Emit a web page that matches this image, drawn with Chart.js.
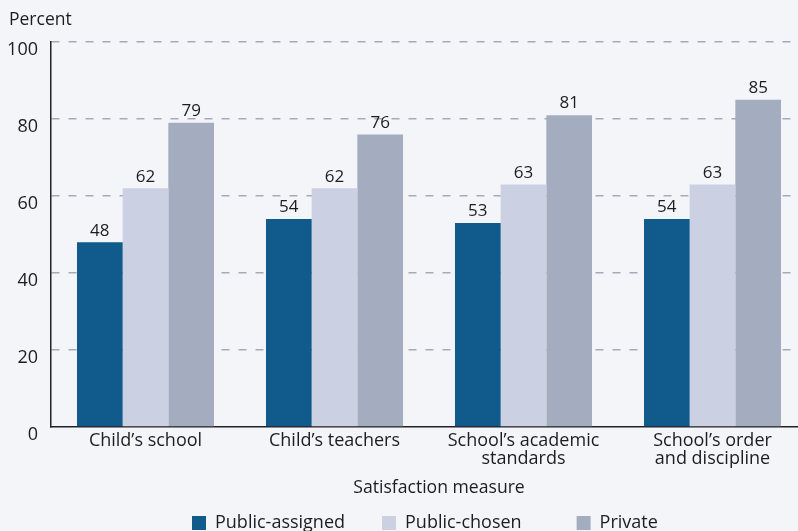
<!DOCTYPE html>
<html>
<head>
<meta charset="utf-8">
<script src="https://cdn.jsdelivr.net/npm/chart.js@4"></script>
<style>
  html, body { margin: 0; padding: 0; background: #f4f5f9; overflow: hidden; }
  #wrap { width: 798px; height: 531px; overflow: hidden; position: relative; }
  canvas { display: block; }
</style>
</head>
<body>
<div id="wrap">
  <canvas id="chart" width="840" height="542"></canvas>
</div>
<script>
const categories = [
  ["Child\u2019s school"],
  ["Child\u2019s teachers"],
  ["School\u2019s academic", "standards"],
  ["School\u2019s order", "and discipline"]
];
const publicAssigned = [48, 54, 53, 54];
const publicChosen = [62, 62, 63, 63];
const privateSchool = [79, 76, 81, 85];
const yTicks = [0, 20, 40, 60, 80, 100];

const FONT = "'Open Sans', 'Noto Sans', sans-serif";
const TEXT = '#1d1d1d';

// value labels above bars, unit label and x-axis title
const labelsPlugin = {
  id: 'barLabels',
  afterLayout(chart) {
    // push the legend a bit right, like the original
    const lg = chart.legend;
    if (!lg || !lg.lineWidths) return;
    const pad = lg.options.labels.padding;
    const startX = (lg.left + pad + lg.right - lg.lineWidths[0]) / 2;
    const d = 192 - startX;
    lg.left += d;
    lg.right += d;
  },
  afterDatasetsDraw(chart) {
    const ctx = chart.ctx;
    const area = chart.chartArea;
    ctx.save();
    ctx.fillStyle = TEXT;
    ctx.font = '17px ' + FONT;
    ctx.textAlign = 'center';
    ctx.textBaseline = 'bottom';
    chart.data.datasets.forEach((ds, i) => {
      chart.getDatasetMeta(i).data.forEach((bar, j) => {
        ctx.fillText(ds.data[j], bar.x, bar.y - 3);
      });
    });
    ctx.textBaseline = 'middle';
    ctx.font = '17.6px ' + FONT;
    ctx.fillText('Satisfaction measure', (area.left + area.right) / 2 + 10, 488);
    ctx.textAlign = 'left';
    ctx.font = '17.5px ' + FONT;
    ctx.fillText('Percent', 9, 20);
    ctx.restore();
  }
};

new Chart(document.getElementById('chart'), {
  type: 'bar',
  data: {
    labels: categories,
    datasets: [
      { label: 'Public-assigned', data: publicAssigned, backgroundColor: '#115a8c' },
      { label: 'Public-chosen', data: publicChosen, backgroundColor: '#cbd1e2' },
      { label: 'Private', data: privateSchool, backgroundColor: '#a3adbf' }
    ]
  },
  options: {
    responsive: false,
    animation: false,
    layout: { padding: { top: 42, right: 33, left: 0, bottom: 0 } },
    datasets: { bar: { barPercentage: 1, categoryPercentage: 0.725 } },
    plugins: {
      tooltip: { enabled: false },
      legend: {
        position: 'bottom',
        labels: {
          color: TEXT,
          font: { family: FONT, size: 18 },
          boxWidth: 14, boxHeight: 14,
          padding: 37,
          // original legend has a wider gap before "Private"
          generateLabels(chart) {
            const items = Chart.defaults.plugins.legend.labels.generateLabels(chart);
            items.forEach((it, i) => { if (i === 1) it.text += '\u2002\u2002'; });
            return items;
          }
        }
      }
    },
    scales: {
      x: {
        grid: { display: false, drawTicks: false },
        border: { display: true, color: '#222', width: 1.5 },
        ticks: { color: TEXT, font: { family: FONT, size: 18, lineHeight: 1.0 }, padding: 5, maxRotation: 0, autoSkip: false },
        afterFit(scale) {
          const lg = scale.chart.legend;
          scale.height = scale.chart.height - (lg ? lg.height : 0) - 427;
        }
      },
      y: {
        min: 0, max: 100,
        afterBuildTicks(scale) { scale.ticks = yTicks.map(v => ({ value: v })); },
        grid: {
          drawTicks: false,
          lineWidth: 1.5,
          color: c => c.tick && c.tick.value === 0 ? 'rgba(0,0,0,0)' : '#a3abbb'
        },
        border: { display: true, color: '#222', width: 1.5, dash: [8, 9] },
        ticks: { color: TEXT, font: { family: FONT, size: 18 }, padding: 13, labelOffset: 8 },
        afterFit(scale) { scale.width = 51; }
      }
    }
  },
  plugins: [labelsPlugin]
});
</script>
</body>
</html>
